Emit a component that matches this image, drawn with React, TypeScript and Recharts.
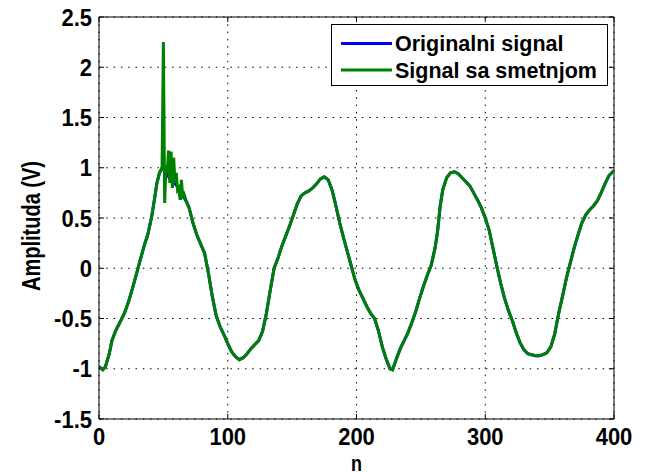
import React from "react";
import { LineChart, Line, XAxis, YAxis, CartesianGrid, ReferenceLine, Legend } from "recharts";

const N = [0,3,5,8,10,13,17,20,23,26,29,32,35,38,41,43,45,47,49,50,51,52,53,54,55,56,57,58,59,60,61,62,63,64,65,66,67,68,70,73,76,79,82,85,88,91,94,97,100,103,106,109,112,115,118,121,124,127,130,133,136,139,142,145,148,151,154,157,160,163,166,169,172,175,178,181,184,187,190,193,196,199,202,205,208,211,214,217,220,223,226,228,231,234,237,240,243,246,249,252,255,258,261,263,265,267,270,273,276,279,282,285,288,291,294,297,300,303,306,309,312,315,318,321,324,327,330,333,336,339,342,345,348,351,354,357,360,363,366,369,372,375,378,381,384,387,390,393,396,399,400];

const ORIGINAL = [-0.98,-1.01,-0.98,-0.85,-0.72,-0.62,-0.52,-0.44,-0.33,-0.2,-0.06,0.08,0.22,0.34,0.52,0.68,0.85,0.95,1.0,0.99,0.97,0.95,0.93,0.91,0.89,0.88,0.87,0.85,0.84,0.83,0.81,0.79,0.77,0.75,0.73,0.71,0.68,0.66,0.6,0.45,0.33,0.24,0.15,-0.05,-0.28,-0.47,-0.58,-0.66,-0.75,-0.83,-0.88,-0.91,-0.89,-0.85,-0.8,-0.76,-0.72,-0.63,-0.45,-0.22,0.0,0.1,0.22,0.32,0.42,0.53,0.64,0.72,0.75,0.77,0.8,0.84,0.89,0.91,0.88,0.78,0.62,0.45,0.3,0.16,0.02,-0.12,-0.22,-0.3,-0.38,-0.45,-0.5,-0.62,-0.78,-0.9,-1.0,-1.01,-0.9,-0.8,-0.72,-0.64,-0.54,-0.43,-0.3,-0.18,-0.07,0.03,0.2,0.37,0.62,0.78,0.9,0.95,0.96,0.94,0.9,0.86,0.82,0.75,0.68,0.6,0.5,0.38,0.2,0.02,-0.15,-0.3,-0.42,-0.52,-0.64,-0.74,-0.81,-0.85,-0.86,-0.87,-0.87,-0.86,-0.84,-0.78,-0.65,-0.45,-0.28,-0.1,0.05,0.2,0.33,0.45,0.53,0.58,0.62,0.67,0.75,0.84,0.92,0.96,0.97];

const NOISE_N = [50,51,52,53,54,55,56,57,58,59,60,61,62,63,64,65,66,67];
const NOISE_V = [2.25,0.65,1.02,0.95,1.17,0.85,1.16,0.8,1.1,0.85,0.95,0.78,0.8,0.68,0.88,0.72,0.74,0.7];

const X_TICKS = [0, 100, 200, 300, 400];
const Y_TICKS = [-1.5, -1, -0.5, 0, 0.5, 1, 1.5, 2, 2.5];
const SERIES_NAMES = ["Originalni signal", "Signal sa smetnjom"];
const COLORS = ["#0000ff", "#008000"];

const data = N.map((n, i) => {
  const k = NOISE_N.indexOf(n);
  return { n, orig: ORIGINAL[i], noisy: k >= 0 ? NOISE_V[k] : ORIGINAL[i] };
});

const FONT = '"Liberation Sans", Arial, Helvetica, sans-serif';

const XTick = (p: any) => (
  <g transform={`translate(${p.x},${p.y + 26}) scale(1,1.1)`}>
    <text x={0} y={0} textAnchor="middle" fontFamily={FONT} fontWeight="bold" fontSize={22} fill="#000">
      {p.payload.value}
    </text>
  </g>
);

const YTick = (p: any) => (
  <g transform={`translate(${p.x - 7},${p.y}) scale(1,1.1)`}>
    <text x={0} y={0} dy="0.36em" textAnchor="end" fontFamily={FONT} fontWeight="bold" fontSize={22} fill="#000">
      {p.payload.value}
    </text>
  </g>
);

const XLabel = (p: any) => {
  const vb = p.viewBox;
  return (
    <g transform={`translate(${vb.x + vb.width / 2},470.5) scale(1,1.2)`}>
      <text x={0} y={0} textAnchor="middle" fontFamily={FONT} fontWeight="bold" fontSize={18} fill="#000">n</text>
    </g>
  );
};

const YLabel = (p: any) => {
  const vb = p.viewBox;
  return (
    <g transform={`translate(40,${vb.y + vb.height / 2 + 8}) rotate(-90) scale(1,1.27)`}>
      <text x={0} y={0} textAnchor="middle" fontFamily={FONT} fontWeight="bold" fontSize={20} fill="#000">Amplituda (V)</text>
    </g>
  );
};

const LegendBox = () => (
  <svg width={277} height={62} style={{ display: "block" }}>
    <rect x={0.5} y={0.5} width={276} height={61} fill="#fff" stroke="#000" strokeWidth={1} />
    {SERIES_NAMES.map((name, i) => (
      <g key={name}>
        <line x1={10} x2={61} y1={19.5 + i * 26.5} y2={19.5 + i * 26.5} stroke={COLORS[i]} strokeWidth={3} />
        <text x={64} y={19.5 + i * 26.5} dy="0.36em" fontFamily={FONT} fontWeight="bold" fontSize={21.5} fill="#000">{name}</text>
      </g>
    ))}
  </svg>
);

export default function App() {
  return (
    <div style={{ position: "absolute", left: 0, top: 0, width: 649, height: 472, background: "#fff" }}>
      <LineChart width={649} height={472} data={data} margin={{ top: 17, right: 35, bottom: 0, left: 0 }}>
        <CartesianGrid stroke="#000" strokeWidth={1} strokeDasharray="1.5 5.8" />
        <XAxis
          dataKey="n"
          type="number"
          domain={[0, 400]}
          ticks={X_TICKS}
          allowDataOverflow
          height={53}
          tickSize={0}
          tickMargin={0}
          tickLine={false}
          axisLine={{ stroke: "#000", strokeWidth: 1 }}
          tick={<XTick />}
          label={<XLabel />}
        />
        <YAxis
          type="number"
          domain={[-1.5, 2.5]}
          ticks={Y_TICKS}
          allowDataOverflow
          width={99}
          tickSize={0}
          tickMargin={0}
          tickLine={false}
          axisLine={{ stroke: "#000", strokeWidth: 1 }}
          tick={<YTick />}
          label={<YLabel />}
        />
        <ReferenceLine y={2.5} stroke="#000" strokeWidth={1} />
        <ReferenceLine x={400} stroke="#000" strokeWidth={1} />
        {X_TICKS.map((t) => (
          <ReferenceLine key={"xb" + t} segment={[{ x: t, y: -1.5 }, { x: t, y: -1.45 }]} stroke="#000" strokeWidth={1} />
        ))}
        {X_TICKS.map((t) => (
          <ReferenceLine key={"xt" + t} segment={[{ x: t, y: 2.45 }, { x: t, y: 2.5 }]} stroke="#000" strokeWidth={1} />
        ))}
        {Y_TICKS.map((t) => (
          <ReferenceLine key={"yl" + t} segment={[{ x: 0, y: t }, { x: 4, y: t }]} stroke="#000" strokeWidth={1} />
        ))}
        {Y_TICKS.map((t) => (
          <ReferenceLine key={"yr" + t} segment={[{ x: 396, y: t }, { x: 400, y: t }]} stroke="#000" strokeWidth={1} />
        ))}
        <Line dataKey="orig" name={SERIES_NAMES[0]} stroke={COLORS[0]} strokeWidth={3} dot={false} isAnimationActive={false} />
        <Line dataKey="noisy" name={SERIES_NAMES[1]} stroke={COLORS[1]} strokeWidth={3} dot={false} isAnimationActive={false} />
        <Legend
          layout="horizontal"
          verticalAlign="middle"
          align="center"
          content={<LegendBox />}
          wrapperStyle={{ left: 331, top: 24, width: 277, height: 62 }}
        />
      </LineChart>
    </div>
  );
}
